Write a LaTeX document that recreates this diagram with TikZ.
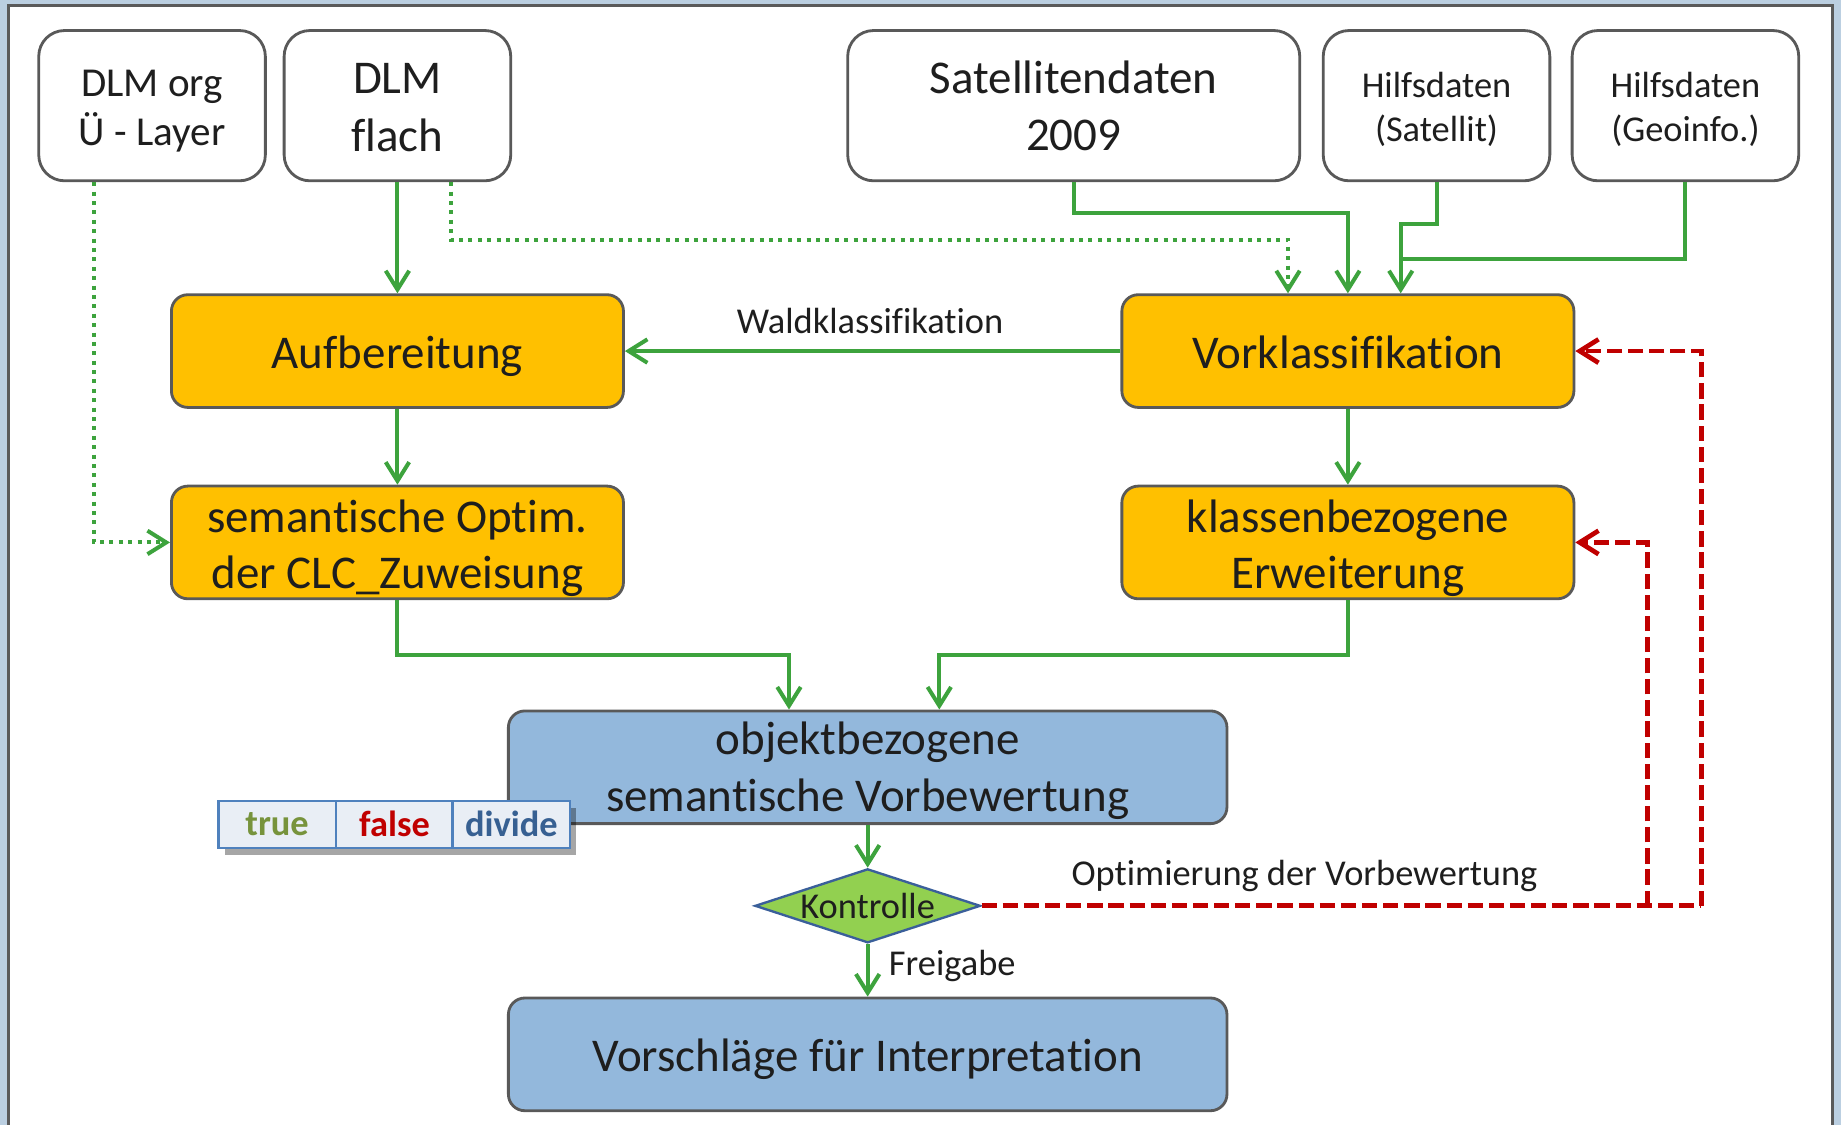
\documentclass[tikz,border=0pt]{standalone}
\usepackage{fontspec}
\setmainfont{Carlito}[Ligatures=NoCommon]
\usetikzlibrary{arrows.meta,shapes.geometric,calc,shadows}
\definecolor{outerbg}{HTML}{BBCFE1}
\definecolor{framegrey}{HTML}{5A5A5A}
\definecolor{boxgrey}{HTML}{595959}
\definecolor{yel}{HTML}{FFC000}
\definecolor{blu}{HTML}{93B8DC}
\definecolor{gr}{HTML}{3DA33D}
\definecolor{rd}{HTML}{C00000}
\definecolor{dia}{HTML}{92D050}
\definecolor{diaedge}{HTML}{3A5F9A}
\definecolor{txt}{HTML}{1E1E1E}
\definecolor{cellfill}{HTML}{E9EEF5}
\definecolor{celledge}{HTML}{4F81BD}
\definecolor{truec}{HTML}{77933C}
\definecolor{dividec}{HTML}{376092}
\begin{document}
\begin{tikzpicture}[x=0.5pt,y=-0.5pt,
  wbox/.style={draw=boxgrey,line width=1.2pt,fill=white,rounded corners=11pt,inner sep=0pt,minimum height=64pt},
  ybox/.style={draw=boxgrey,line width=1.2pt,fill=yel,rounded corners=7pt,align=center,text=txt,inner sep=0pt,minimum width=192.5pt,minimum height=48pt,font=\fontsize{20}{24}\selectfont},
  bbox/.style={draw=boxgrey,line width=1.2pt,fill=blu,rounded corners=7pt,align=center,text=txt,inner sep=0pt,minimum width=306pt,minimum height=48pt,font=\fontsize{20}{24}\selectfont},
  oneline/.style={text height=15pt,text depth=0pt},
  btxt/.style={align=center,text=txt,inner sep=0pt,font=\fontsize{20}{24}\selectfont},
  tip/.style={-{Straight Barb[length=8pt,width=10pt,line width=1.7pt]}},
  garrow/.style={draw=gr,line width=1.7pt,line join=miter,tip},
  gline/.style={draw=gr,line width=1.7pt,line join=miter},
  gdot/.style={draw=gr,line width=1.7pt,dash pattern=on 1.7pt off 2.3pt,tip},
  rdash/.style={draw=rd,line width=2pt,dash pattern=on 6.5pt off 2.5pt,-{Straight Barb[length=8pt,width=10pt,line width=2pt]}},
  rline/.style={draw=rd,line width=2pt,dash pattern=on 6.5pt off 2.5pt},
  lbl/.style={text=txt,inner sep=0pt,font=\fontsize{15.5}{18.5}\selectfont},
  cell/.style={draw=celledge,line width=1pt,fill=cellfill,minimum width=50pt,minimum height=20pt,inner sep=0pt,font=\fontsize{15.5}{18.5}\selectfont\bfseries}
]
\useasboundingbox (0,0) rectangle (1568,958);
% background and panel
\fill[outerbg] (0,0) rectangle (1568,958);
\draw[framegrey,line width=1.3pt,fill=white] (7,990) -- (7,5) -- (1561,5) -- (1561,990);

% top sources
\node[wbox,minimum width=96.5pt] (dlmorg) at (129.5,90) {};
\node[btxt,font=\fontsize{17.5}{21}\selectfont] (dlmorgt) at ($(dlmorg.center)+(0,4.5)$) {DLM org\\Ü - Layer};
\node[wbox,minimum width=96.5pt] (dlmflach) at (338.5,90) {};
\node[btxt,font=\fontsize{20}{24.5}\selectfont] (dlmflacht) at ($(dlmflach.center)+(0,1.5)$) {DLM\\flach};
\node[wbox,minimum width=192.5pt] (sat) at (914.5,90) {};
\node[btxt,font=\fontsize{20}{24.5}\selectfont] (satt) at (sat.center) {Satellitendaten\\2009};
\node[wbox,minimum width=96.5pt] (hsat) at (1223.5,90) {};
\node[btxt,font=\fontsize{15.5}{18.5}\selectfont] (hsatt) at ($(hsat.center)+(0,3)$) {Hilfsdaten\\(Satellit)};
\node[wbox,minimum width=96.5pt] (hgeo) at (1435.5,90) {};
\node[btxt,font=\fontsize{15.5}{18.5}\selectfont] (hgeot) at ($(hgeo.center)+(0,3)$) {Hilfsdaten\\(Geoinfo.)};

% processing boxes
\node[ybox,oneline] (auf) at (338.5,299) {Aufbereitung};
\node[ybox,oneline] (vork) at (1148,299) {Vorklassifikation};
\node[ybox] (sem) at (338.5,462) {};
\node[btxt] (semt) at ($(sem.center)+(0,5)$) {semantische Optim.\\der CLC\_Zuweisung};
\node[ybox] (kla) at (1148,462) {};
\node[btxt] (klat) at ($(kla.center)+(0,5)$) {klassenbezogene\\Erweiterung};
\node[bbox] (obj) at (739,653.5) {};
\node[btxt] (objt) at ($(obj.center)+(0,3)$) {objektbezogene\\semantische Vorbewertung};
\node[bbox,oneline] (vor) at (739,898) {Vorschläge für Interpretation};
\node[diamond,draw=diaedge,line width=1pt,fill=dia,minimum width=96pt,minimum height=31.5pt,inner sep=0pt,text=txt,font=\fontsize{15.5}{18.5}\selectfont] (kon) at (739,771.5) {\makebox[0pt]{Kontrolle}};

% legend table
\node[fill=black,opacity=0.35,minimum width=149.5pt,minimum height=20pt,inner sep=0pt] (tabshadow) at (341.5,708) {};
\node[cell,text=truec] (ctrue) at (236,702) {true};
\node[cell,text=rd] (cfalse) at (336,702) {false};
\node[cell,text=dividec] (cdiv) at (435.5,702) {divide};

% green solid connectors
\draw[garrow] (dlmflach) -- (auf);
\draw[garrow] (auf) -- (sem);
\draw[garrow] (vork) -- (kla);
\draw[garrow] (vork.west) -- (auf.east);
\draw[garrow] (sat.south) -- ++(0,26) -| (vork.north);
\draw[garrow] (hsat.south) -- ++(0,36) -| ($(vork.north)+(45,0)$);
\draw[gline] (hgeo.south) |- ($(vork.north)+(45,-29)$);
\draw[garrow] (sem.south) -- ++(0,47) -| ($(obj.north)+(-67,0)$);
\draw[garrow] (kla.south) -- ++(0,47) -| ($(obj.north)+(61,0)$);
\draw[garrow] (obj.south) -- (kon.north);
\draw[garrow] (kon.south) -- (vor.north);

% green dotted connectors
\draw[gdot] ($(dlmorg.south)+(-49.5,0)$) |- (sem.west);
\draw[gdot] ($(dlmflach.south)+(45.5,0)$) -- ++(0,49) -| ($(vork.north)+(-51,0)$);

% red dashed feedback
\coordinate (r1) at (1449,771.5);
\coordinate (r2) at (1403,771.5);
\draw[rline] (kon.east) -- (r1);
\draw[rdash] (r1) |- (vork.east);
\draw[rdash] (r2) |- (kla.east);

% labels
\node[lbl] (lwald) at (741,273) {Waldklassifikation};
\node[lbl] (lopt) at (1111,746) {Optimierung der Vorbewertung};
\node[lbl] (lfrei) at (811,823) {Freigabe};
\end{tikzpicture}
\end{document}
